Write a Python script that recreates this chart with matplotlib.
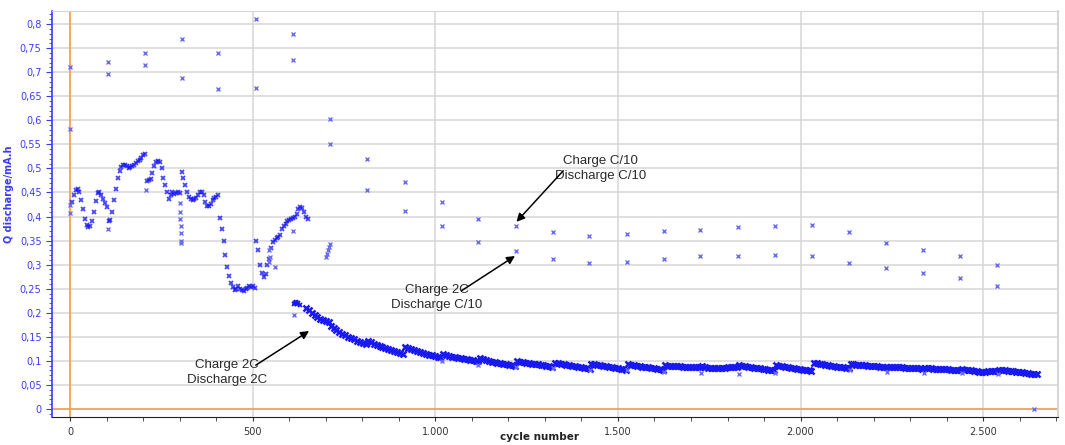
import numpy as np
import matplotlib
matplotlib.use('Agg')
import matplotlib.pyplot as plt
from matplotlib.ticker import MultipleLocator, FuncFormatter

# ---- data ----
# C/10 check-up cycles: two points each (upper / lower)
check_cycles = [0, 103, 205, 305, 406, 509, 610, 711, 813, 916, 1018, 1118, 1220,
                1322, 1422, 1524, 1625, 1726, 1829, 1930, 2032, 2133, 2234, 2336,
                2437, 2538]
check_high = [0.711, 0.721, 0.739, 0.769, 0.739, 0.811, 0.780, 0.602, 0.519, 0.472,
              0.430, 0.395, 0.380, 0.368, 0.359, 0.364, 0.370, 0.373, 0.378, 0.380,
              0.383, 0.367, 0.346, 0.330, 0.317, 0.300]
check_low = [0.582, 0.697, 0.716, 0.689, 0.666, 0.668, 0.725, 0.551, 0.456, 0.411,
             0.380, 0.348, 0.328, 0.311, 0.303, 0.306, 0.311, 0.319, 0.319, 0.321,
             0.317, 0.303, 0.293, 0.283, 0.272, 0.256]

# single points sitting just under the 2C curve at each check-up
dip_cycles = [1018, 1118, 1220, 1322, 1423, 1524, 1626, 1727, 1831, 1931, 2135,
              2237, 2338, 2441, 2542, 2640]
dip_values = [0.100, 0.091, 0.088, 0.085, 0.082, 0.080, 0.076, 0.074, 0.072, 0.074,
              0.080, 0.076, 0.075, 0.075, 0.073, 0.0]

# scattered points in the first 720 cycles
odd_cycles = [0, 0, 103, 207, 300, 301, 301, 302, 302, 303, 304, 543, 545, 548, 561,
              610, 612, 700, 703, 706, 709, 712]
odd_values = [0.408, 0.425, 0.375, 0.456, 0.428, 0.410, 0.395, 0.380, 0.365, 0.350,
              0.345, 0.306, 0.330, 0.315, 0.296, 0.369, 0.196, 0.315, 0.322, 0.330,
              0.337, 0.343]

# 2C cycling, first part (one value every 5 cycles)
early_start, early_step = 5, 5
early_q = [0.430, 0.445, 0.455, 0.457, 0.452, 0.435, 0.415, 0.395, 0.382, 0.379,
           0.380, 0.390, 0.410, 0.432, 0.448, 0.452, 0.445, 0.437, 0.428, 0.420,
           0.390, 0.392, 0.410, 0.435, 0.458, 0.480, 0.495, 0.503, 0.507, 0.508,
           0.506, 0.500, 0.502, 0.505, 0.508, 0.512, 0.515, 0.518, 0.522, 0.527,
           0.530, 0.474, 0.475, 0.478, 0.490, 0.505, 0.513, 0.515, 0.514, 0.500,
           0.480, 0.465, 0.450, 0.437, 0.445, 0.452, 0.447, 0.448, 0.450, 0.449,
           0.493, 0.480, 0.465, 0.450, 0.440, 0.437, 0.435, 0.436, 0.438, 0.445,
           0.451, 0.452, 0.445, 0.430, 0.422, 0.421, 0.427, 0.435, 0.438, 0.440,
           0.445, 0.396, 0.375, 0.350, 0.320, 0.295, 0.277, 0.262, 0.253, 0.248,
           0.250, 0.255, 0.250, 0.248, 0.245, 0.250, 0.252, 0.255, 0.254, 0.255,
           0.252, 0.350, 0.330, 0.300, 0.282, 0.275, 0.280, 0.300, 0.312, 0.335,
           0.348, 0.352, 0.356, 0.358, 0.362, 0.375, 0.380, 0.385, 0.390, 0.393,
           0.395, 0.398, 0.400, 0.405, 0.415, 0.420, 0.418, 0.410, 0.400, 0.395]

# short 0.22 cluster
cluster_cycles = [613, 616, 619, 622, 625, 628]
cluster_q = [0.218, 0.221, 0.222, 0.219, 0.220, 0.217]

# 2C cycling, long part: one list per block between check-ups (every 8 cycles)
block_starts = [645, 713, 815, 918, 1022, 1122, 1224, 1327, 1427, 1527, 1630, 1730,
                1832, 1934, 2036, 2137, 2238, 2340, 2442, 2543]
block_step = 8
block_q = [
    [0.209, 0.205, 0.200, 0.195, 0.191, 0.187, 0.184, 0.182, 0.181],
    [0.172, 0.168, 0.164, 0.160, 0.156, 0.153, 0.150, 0.147, 0.145, 0.142, 0.140, 0.138, 0.136],
    [0.142, 0.139, 0.136, 0.133, 0.131, 0.128, 0.126, 0.124, 0.122, 0.120, 0.118, 0.116, 0.114],
    [0.129, 0.126, 0.124, 0.122, 0.120, 0.118, 0.116, 0.115, 0.113, 0.112, 0.110, 0.109, 0.108],
    [0.114, 0.112, 0.111, 0.109, 0.108, 0.106, 0.105, 0.104, 0.103, 0.102, 0.101, 0.100, 0.099],
    [0.105, 0.103, 0.101, 0.100, 0.098, 0.097, 0.096, 0.095, 0.094, 0.093, 0.092, 0.091, 0.090],
    [0.099, 0.098, 0.097, 0.096, 0.095, 0.094, 0.093, 0.093, 0.092, 0.091, 0.090, 0.089, 0.088],
    [0.096, 0.095, 0.094, 0.093, 0.092, 0.091, 0.090, 0.089, 0.088, 0.087, 0.086, 0.085, 0.084],
    [0.094, 0.093, 0.092, 0.091, 0.090, 0.089, 0.088, 0.087, 0.086, 0.085, 0.084, 0.083, 0.082],
    [0.093, 0.092, 0.091, 0.090, 0.089, 0.088, 0.087, 0.087, 0.086, 0.085, 0.084, 0.083, 0.082],
    [0.091, 0.090, 0.090, 0.089, 0.089, 0.089, 0.088, 0.088, 0.088, 0.088, 0.088, 0.088, 0.088],
    [0.089, 0.088, 0.086, 0.085, 0.085, 0.085, 0.085, 0.086, 0.086, 0.087, 0.087, 0.088, 0.088],
    [0.091, 0.090, 0.089, 0.088, 0.087, 0.086, 0.086, 0.085, 0.084, 0.083, 0.082, 0.081, 0.080],
    [0.091, 0.090, 0.089, 0.088, 0.087, 0.086, 0.085, 0.084, 0.083, 0.082, 0.081, 0.080, 0.079],
    [0.096, 0.095, 0.094, 0.093, 0.092, 0.091, 0.090, 0.089, 0.088, 0.088, 0.087, 0.086, 0.085],
    [0.093, 0.093, 0.092, 0.092, 0.091, 0.091, 0.090, 0.090, 0.089, 0.089, 0.088, 0.088, 0.087],
    [0.088, 0.088, 0.088, 0.087, 0.087, 0.087, 0.086, 0.086, 0.086, 0.085, 0.085, 0.085, 0.084],
    [0.085, 0.085, 0.085, 0.084, 0.084, 0.084, 0.083, 0.083, 0.083, 0.082, 0.082, 0.082, 0.081],
    [0.083, 0.082, 0.081, 0.080, 0.079, 0.078, 0.077, 0.077, 0.077, 0.078, 0.078, 0.079, 0.079],
    [0.081, 0.080, 0.080, 0.079, 0.078, 0.078, 0.077, 0.076, 0.076, 0.075, 0.074, 0.073, 0.073, 0.072],
]

annotations = [
    ("Charge 2C\nDischarge 2C", (430, 0.076), (508, 0.091), (654, 0.162)),
    ("Charge 2C\nDischarge C/10", (1003, 0.232), (1072, 0.246), (1218, 0.318)),
    ("Charge C/10\nDischarge C/10", (1453, 0.500), (1350, 0.495), (1222, 0.389)),
]

BLUE = '#1818f2'
PALE = '#6a6af2'
AXIS_BLUE = '#3a3aff'

fig = plt.figure(figsize=(10.65, 4.45), dpi=100)
ax = fig.add_axes([0.0488, 0.063, 0.9446, 0.912])

# grid + orange zero lines
ax.set_xlim(-50, 2705)
ax.set_ylim(-0.0166, 0.827)
ax.xaxis.set_major_locator(MultipleLocator(500))
ax.xaxis.set_minor_locator(MultipleLocator(100))
ax.yaxis.set_major_locator(MultipleLocator(0.05))
ax.yaxis.set_minor_locator(MultipleLocator(0.01))
ax.grid(which='major', color='#d6d6d6', linewidth=1.1)
ax.set_axisbelow(True)
ax.axvline(0, color='#f5a04a', linewidth=1.2, zorder=1)
ax.axhline(0, color='#f5a04a', linewidth=1.2, zorder=1)

mk = dict(linestyle='none', marker='x')

# early 2C part
early_c = np.arange(len(early_q)) * early_step + early_start
ax.plot(early_c, early_q, color=BLUE, markersize=3.5, mew=1.3, alpha=0.8, **mk)
ax.plot(cluster_cycles, cluster_q, color=BLUE, markersize=3.5, mew=1.3, **mk)

# long 2C part
for start, vals in zip(block_starts, block_q):
    c = start + np.arange(len(vals)) * block_step
    ax.plot(c, vals, color=BLUE, markersize=4.5, mew=1.8, **mk)

ax.plot(odd_cycles, odd_values, color=PALE, markersize=3, mew=1, **mk)
ax.plot(dip_cycles, dip_values, color=PALE, markersize=3, mew=1, **mk)
ax.plot(check_cycles, check_high, color=PALE, markersize=3, mew=1, **mk)
ax.plot(check_cycles, check_low, color=PALE, markersize=3, mew=1, **mk)

for label, txt_xy, tail, head in annotations:
    ax.text(txt_xy[0], txt_xy[1], label, ha='center', va='center', fontsize=9.5,
            color='#2a2a2a', linespacing=1.3, family='Liberation Sans')
    ax.annotate('', xy=head, xytext=tail,
                arrowprops=dict(arrowstyle='-|>', color='black', lw=1.1,
                                mutation_scale=12, shrinkA=0, shrinkB=0))

# axes styling
ax.xaxis.set_major_formatter(FuncFormatter(lambda v, p: f"{int(round(v)):,}".replace(',', '.')))
ax.yaxis.set_major_formatter(FuncFormatter(lambda v, p: f"{round(v, 2):g}".replace('.', ',')))
ax.tick_params(axis='y', which='both', colors=AXIS_BLUE, labelsize=7, direction='out')
ax.tick_params(axis='y', which='major', length=4)
ax.tick_params(axis='y', which='minor', length=2)
ax.tick_params(axis='x', which='both', colors='#333333', labelsize=7, direction='out')
ax.tick_params(axis='x', which='major', length=3, pad=4)
ax.tick_params(axis='x', which='minor', length=3)
ax.spines['left'].set_color(AXIS_BLUE)
ax.spines['left'].set_linewidth(1.2)
ax.spines['bottom'].set_color('#222222')
ax.spines['top'].set_color('#d6d6d6')
ax.spines['right'].set_color('#d6d6d6')
ax.spines['right'].set_linewidth(1.5)

ax.set_ylabel('Q discharge/mA.h', color=AXIS_BLUE, fontsize=7, fontweight='bold')
ax.yaxis.set_label_coords(-0.038, 0.55)
ax.set_xlabel('cycle number', color='#222222', fontsize=7.5, fontweight='bold')
ax.xaxis.set_label_coords(0.485, -0.038)

fig.savefig('out.png', dpi=100)
